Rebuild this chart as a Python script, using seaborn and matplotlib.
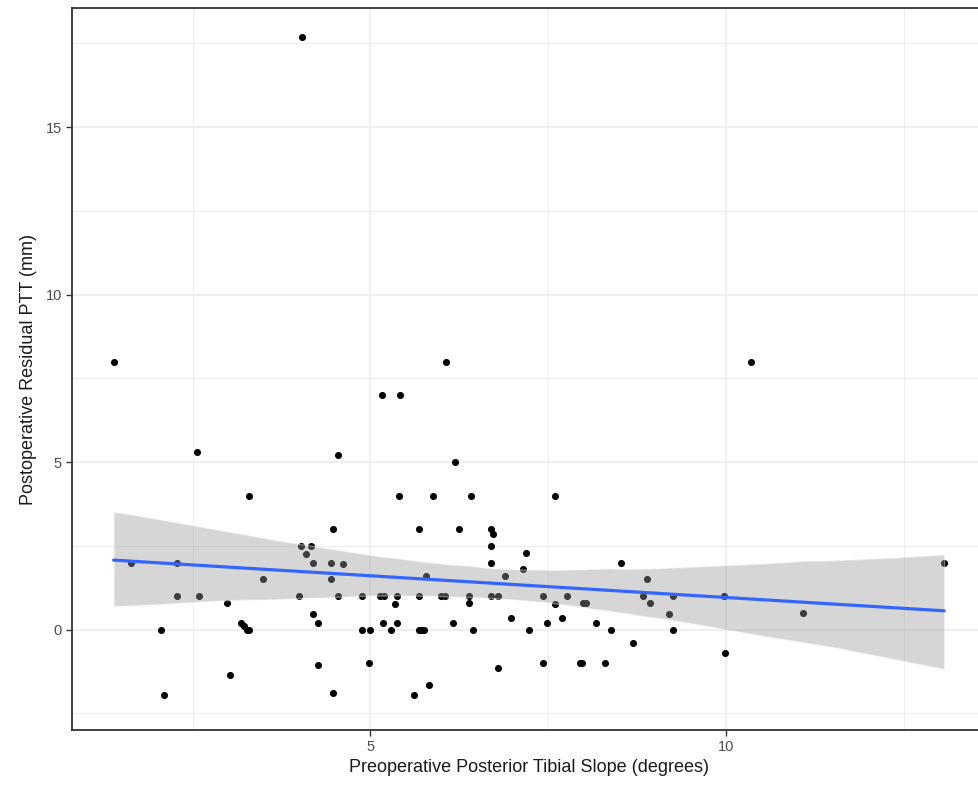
import matplotlib
matplotlib.use("Agg")
import matplotlib.pyplot as plt
from matplotlib.ticker import MultipleLocator
import seaborn as sns

# Preoperative posterior tibial slope (degrees) vs postoperative residual PTT (mm)
slope_deg = [
    1.39, 1.64, 2.05, 2.10, 2.28, 2.28, 2.56, 2.59, 2.99, 3.02,
    3.18, 3.23, 3.26, 3.30, 3.30, 3.49, 4.00, 4.02, 4.04, 4.10,
    4.17, 4.19, 4.19, 4.26, 4.26, 4.45, 4.45, 4.48, 4.48, 4.54,
    4.54, 4.62, 4.89, 4.89, 4.98, 4.99, 5.14, 5.17, 5.18, 5.19,
    5.29, 5.35, 5.38, 5.38, 5.40, 5.42, 5.61, 5.68, 5.68, 5.68,
    5.72, 5.75, 5.79, 5.82, 5.88, 5.99, 6.05, 6.07, 6.17, 6.19,
    6.25, 6.39, 6.39, 6.42, 6.44, 6.70, 6.73, 6.70, 6.70, 6.70,
    6.79, 6.79, 6.90, 6.98, 7.15, 7.19, 7.23, 7.43, 7.43, 7.48,
    7.60, 7.60, 7.69, 7.77, 7.95, 7.98, 7.99, 8.04, 8.18, 8.30,
    8.38, 8.52, 8.69, 8.83, 8.89, 8.94, 9.20, 9.25, 9.26, 9.98,
    9.99, 10.36, 11.08, 13.07,
]
residual_ptt = [
    8.0, 2.0, 0.0, -1.95, 2.0, 1.0, 5.3, 1.0, 0.8, -1.35,
    0.2, 0.1, 0.0, 0.0, 4.0, 1.5, 1.0, 2.5, 17.7, 2.25,
    2.5, 2.0, 0.45, 0.2, -1.05, 2.0, 1.5, 3.0, -1.9, 5.2,
    1.0, 1.95, 1.0, 0.0, -1.0, 0.0, 1.0, 7.0, 0.2, 1.0,
    0.0, 0.75, 1.0, 0.2, 4.0, 7.0, -1.95, 3.0, 1.0, 0.0,
    0.0, 0.0, 1.6, -1.65, 4.0, 1.0, 1.0, 8.0, 0.2, 5.0,
    3.0, 1.0, 0.8, 4.0, 0.0, 3.0, 2.85, 2.5, 2.0, 1.0,
    1.0, -1.15, 1.6, 0.33, 1.8, 2.3, 0.0, 1.0, -1.0, 0.2,
    4.0, 0.75, 0.33, 1.0, -1.0, -1.0, 0.8, 0.8, 0.2, -1.0,
    0.0, 2.0, -0.4, 1.0, 1.5, 0.8, 0.45, 1.0, 0.0, 1.0,
    -0.7, 8.0, 0.5, 2.0,
]

sns.set_theme(style="white")
plt.rcParams['font.family'] = ['Liberation Sans', 'DejaVu Sans']

fig = plt.figure(figsize=(9.79, 7.91), dpi=100)
ax = fig.add_axes([0.0732, 0.0771, 0.9333, 0.9128])

sns.regplot(
    x=slope_deg, y=residual_ptt, ax=ax, ci=95, seed=7,
    scatter_kws={'s': 26, 'color': 'black', 'linewidths': 0, 'alpha': 1},
    line_kws={'color': '#3366FF', 'linewidth': 2.3},
)
# ggplot-style grey confidence ribbon
band = ax.collections[-1]
band.set_facecolor('#999999')
band.set_alpha(0.4)

ax.set_xlim(0.80, 13.65)
ax.set_ylim(-3.0, 18.56)
ax.xaxis.set_major_locator(MultipleLocator(5))
ax.xaxis.set_minor_locator(MultipleLocator(2.5))
ax.yaxis.set_major_locator(MultipleLocator(5))
ax.yaxis.set_minor_locator(MultipleLocator(2.5))
ax.grid(which='major', color='#EBEBEB', linewidth=1.1)
ax.grid(which='minor', color='#EBEBEB', linewidth=0.6)
ax.set_axisbelow(True)

for side in ['left', 'bottom', 'top', 'right']:
    ax.spines[side].set_color('#333333')
    ax.spines[side].set_linewidth(1.3)

ax.tick_params(which='major', length=4, width=1, color='#333333',
               labelsize=10.5, labelcolor='#4D4D4D', pad=3, left=True, bottom=True)
ax.tick_params(which='minor', length=0)

ax.set_xlabel('Preoperative Posterior Tibial Slope (degrees)', fontsize=13, color='#1A1A1A', labelpad=4)
ax.set_ylabel('Postoperative Residual PTT (mm)', fontsize=13, color='#1A1A1A', labelpad=6)

fig.savefig('out.png', dpi=100)
